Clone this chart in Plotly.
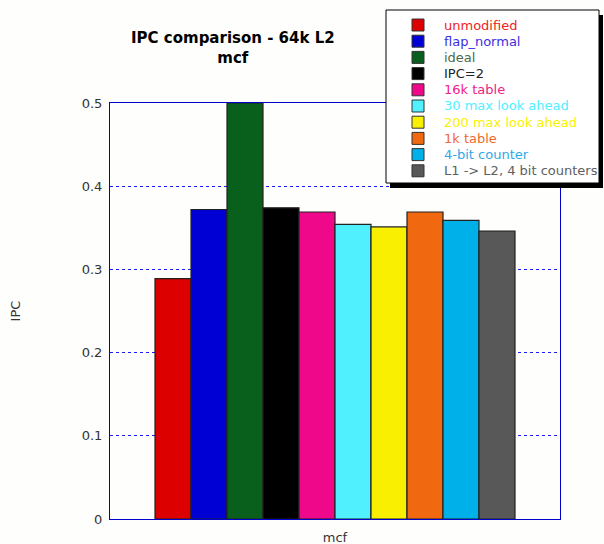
import plotly.graph_objects as go

categories = ["mcf"]
series_names = ["unmodified", "flap_normal", "ideal", "IPC=2", "16k table",
                "30 max look ahead", "200 max look ahead", "1k table",
                "4-bit counter", "L1 -> L2, 4 bit counters"]
series_values = [0.289, 0.372, 0.5, 0.374, 0.369, 0.354, 0.351, 0.369, 0.359, 0.346]
bar_colors = ["#dd0000", "#0000d4", "#08601c", "#000000", "#f0088a",
              "#50f0ff", "#f8f000", "#f06810", "#00b0e8", "#585858"]
text_colors = ["#ee2222", "#3a2ee0", "#4a6a4a", "#222222", "#f0208a",
               "#50f0ff", "#f8f000", "#f06830", "#30a8e8", "#606060"]
y_ticks = [0, 0.1, 0.2, 0.3, 0.4, 0.5]
y_ticklabels = ["0", "0.1", "0.2", "0.3", "0.4", "0.5"]

W, H = 604, 544
ML, MR, MT, MB = 110, 44, 103, 25
PW, PH = W - ML - MR, H - MT - MB

def px(x):
    return (x - ML) / PW

def py(y):
    return (H - MB - y) / PH

FONT = "DejaVu Sans, Verdana, sans-serif"

fig = go.Figure()
for name, val, col in zip(series_names, series_values, bar_colors):
    fig.add_trace(go.Bar(x=categories, y=[val], name=name,
                         marker=dict(color=col, line=dict(color="#222222", width=1.2)),
                         showlegend=False))

shapes = []
annotations = []
bx0, bx1, by0, by1 = 386, 599, 10, 183
shapes.append(dict(type="rect", xref="paper", yref="paper",
                   x0=px(bx0 + 4), x1=px(bx1 + 4), y0=py(by0 + 5), y1=py(by1 + 5),
                   fillcolor="#000000", line=dict(width=0), layer="above"))
shapes.append(dict(type="rect", xref="paper", yref="paper",
                   x0=px(bx0), x1=px(bx1), y0=py(by0), y1=py(by1),
                   fillcolor="#ffffff", line=dict(color="#000000", width=1), layer="above"))
row0, step = 25, 16.2
for i, (name, col, tcol) in enumerate(zip(series_names, bar_colors, text_colors)):
    cy = row0 + i * step
    shapes.append(dict(type="rect", xref="paper", yref="paper",
                       x0=px(412), x1=px(424), y0=py(cy - 6), y1=py(cy + 6),
                       fillcolor=col, line=dict(color="#333333", width=1), layer="above"))
    annotations.append(dict(text=name, xref="paper", yref="paper",
                            x=px(442), y=py(cy), xanchor="left", yanchor="middle",
                            showarrow=False, font=dict(family=FONT, size=13, color=tcol)))

annotations.append(dict(text="<b>IPC comparison - 64k L2</b><br><b>mcf</b>",
                        xref="paper", yref="paper", x=px(233), y=py(27),
                        xanchor="center", yanchor="top", showarrow=False,
                        font=dict(family=FONT, size=15, color="#000000")))

fig.update_layout(
    width=W, height=H,
    margin=dict(l=ML, r=MR, t=MT, b=MB, autoexpand=False),
    paper_bgcolor="#fefefc", plot_bgcolor="#fefefc",
    font=dict(family=FONT, size=13, color="#333333"),
    barmode="group", bargap=0.2, bargroupgap=0,
    shapes=shapes, annotations=annotations,
    xaxis=dict(showline=True, linecolor="#0000cc", linewidth=1, mirror=True,
               showgrid=False, ticks="", tickfont=dict(size=13, color="#333333"),
               automargin=False, ticklabelstandoff=6, fixedrange=True),
    yaxis=dict(range=[0, 0.5], tickvals=y_ticks, ticktext=y_ticklabels,
               showline=True, linecolor="#0000cc", linewidth=1, mirror=True,
               showgrid=True, gridcolor="#1a1aff", griddash="dot", gridwidth=1,
               zeroline=False, ticks="", ticklen=0, tickfont=dict(size=13, color="#333333"),
               automargin=False, ticklabelstandoff=4,
               title=dict(text="IPC", font=dict(size=13, color="#333333"), standoff=58)),
)
fig.write_html("out.html", config={"displayModeBar": False},
               post_script="document.body.style.margin='0';document.body.style.overflow='hidden';")
